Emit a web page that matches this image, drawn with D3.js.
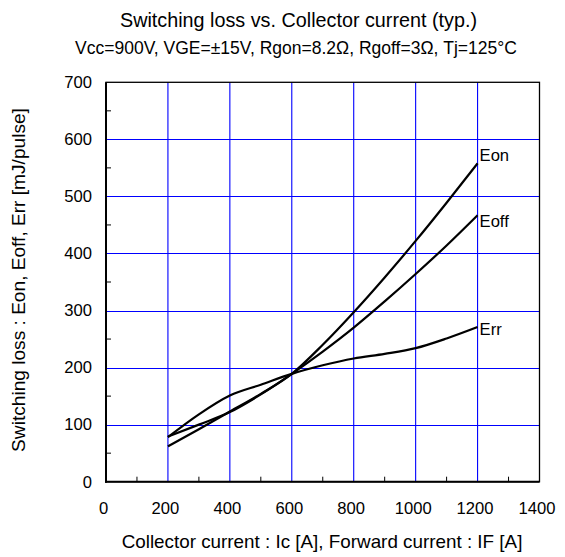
<!DOCTYPE html>
<html><head><meta charset="utf-8">
<script src="https://cdn.jsdelivr.net/npm/d3@7"></script>
<style>
body{margin:0;background:#fff;}
text{font-family:"Liberation Sans",Arial,sans-serif;fill:#000;}
</style></head>
<body>
<svg id="chart" width="565" height="557"></svg>
<script>
const currents = [200,300,400,500,600,700,800,900,1000,1100,1200];
const eon  = [62, 92, 123,154,189,240,297,358,422,489,558];
const eoff = [79,100, 122,153,189,228,270,316,364,414,467];
const err  = [78,118, 151,170,189,204,216,224,234,251,271];
const seriesNames = ["Eon","Eoff","Err"];
const xTicks = [0,200,400,600,800,1000,1200,1400];
const yTicks = [0,100,200,300,400,500,600,700];
const xMinor = [100,300,500,700,900,1100,1300];
const yMinor = [50,150,250,350,450,550,650];
const titleText = "Switching loss vs. Collector current (typ.)";
const subtitleText = "Vcc=900V, VGE=\u00B115V, Rgon=8.2\u03A9, Rgoff=3\u03A9, Tj=125\u00B0C";
const xLabel = "Collector current : Ic [A], Forward current : IF [A]";
const yLabel = "Switching loss : Eon, Eoff, Err [mJ/pulse]";

const svg = d3.select("#chart");
const L=106, R=539.5, T=82.3, B=481.7;
const x = d3.scaleLinear().domain([0,1400]).range([L,R]);
const y = d3.scaleLinear().domain([0,700]).range([B,T]);

// fit text to a target width by adjusting font size
function fit(sel, target){
  sel.each(function(){
    const w = this.getComputedTextLength();
    const fs = parseFloat(d3.select(this).attr("font-size"));
    d3.select(this).attr("font-size", (fs*target/w).toFixed(2));
  });
  return sel;
}

// grid
const g = svg.append("g");
g.selectAll(".vg").data(xTicks.slice(1,-1)).join("line")
  .attr("x1",d=>x(d)).attr("x2",d=>x(d))
  .attr("y1",T).attr("y2",B).attr("stroke","#0000ff").attr("stroke-width",1.1);
g.selectAll(".hg").data(yTicks.slice(1,-1)).join("line")
  .attr("y1",d=>Math.round(y(d))+0.5).attr("y2",d=>Math.round(y(d))+0.5)
  .attr("x1",L).attr("x2",R).attr("stroke","#0000ff").attr("stroke-width",1);

// minor ticks (inward)
svg.selectAll(".xm").data(xMinor).join("line")
  .attr("x1",d=>x(d)).attr("x2",d=>x(d)).attr("y1",B).attr("y2",B-5)
  .attr("stroke","#000").attr("stroke-width",1);
svg.selectAll(".ym").data(yMinor).join("line")
  .attr("y1",d=>y(d)).attr("y2",d=>y(d)).attr("x1",L).attr("x2",L+5)
  .attr("stroke","#000").attr("stroke-width",1);

// frame
svg.append("rect").attr("x",L).attr("y",T).attr("width",R-L).attr("height",B-T)
  .attr("fill","none").attr("stroke","#000").attr("stroke-width",1.3);
svg.append("line").attr("x1",L).attr("x2",L).attr("y1",T).attr("y2",B+1).attr("stroke","#000").attr("stroke-width",2);
svg.append("line").attr("x1",L-1).attr("x2",R).attr("y1",B).attr("y2",B).attr("stroke","#000").attr("stroke-width",2);

// axes labels via d3 axes
const xAxis = d3.axisBottom(x).tickValues(xTicks).tickSize(0).tickPadding(21).tickFormat(d3.format("d"));
const yAxis = d3.axisLeft(y).tickValues(yTicks).tickSize(0).tickPadding(14).tickFormat(d3.format("d"));
const xa = svg.append("g").attr("transform",`translate(-3,${B})`).call(xAxis);
const ya = svg.append("g").attr("transform",`translate(${L},0)`).call(yAxis);
[xa,ya].forEach(a=>{a.select(".domain").remove();
  a.selectAll("text").attr("font-family","Liberation Sans, Arial, sans-serif").attr("font-size",16.6).attr("fill","#000");});

// curves
const seriesData = [eon,eoff,err];
const line = d3.line().x((d,i)=>x(currents[i])).y(d=>y(d)).curve(d3.curveMonotoneX);
svg.selectAll(".curve").data(seriesData).join("path")
  .attr("d",line).attr("fill","none").attr("stroke","#000").attr("stroke-width",2.2);

// series labels
const labelDy = [-2,12,8];
svg.selectAll(".sl").data(seriesNames).join("text")
  .attr("x",x(1200)+2).attr("y",(d,i)=>y(seriesData[i][seriesData[i].length-1])+labelDy[i])
  .attr("font-size",16.6).text(d=>d);

// titles
fit(svg.append("text").attr("x",298.5).attr("y",27).attr("text-anchor","middle").attr("font-size",17).text(titleText), 357);
fit(svg.append("text").attr("x",296).attr("y",53.5).attr("text-anchor","middle").attr("font-size",15).text(subtitleText), 442);
fit(svg.append("text").attr("x",322).attr("y",547.5).attr("text-anchor","middle").attr("font-size",16).text(xLabel), 401);
fit(svg.append("text").attr("transform",`translate(24.5,280) rotate(-90)`).attr("text-anchor","middle").attr("font-size",16).text(yLabel), 344);
</script>
</body></html>
